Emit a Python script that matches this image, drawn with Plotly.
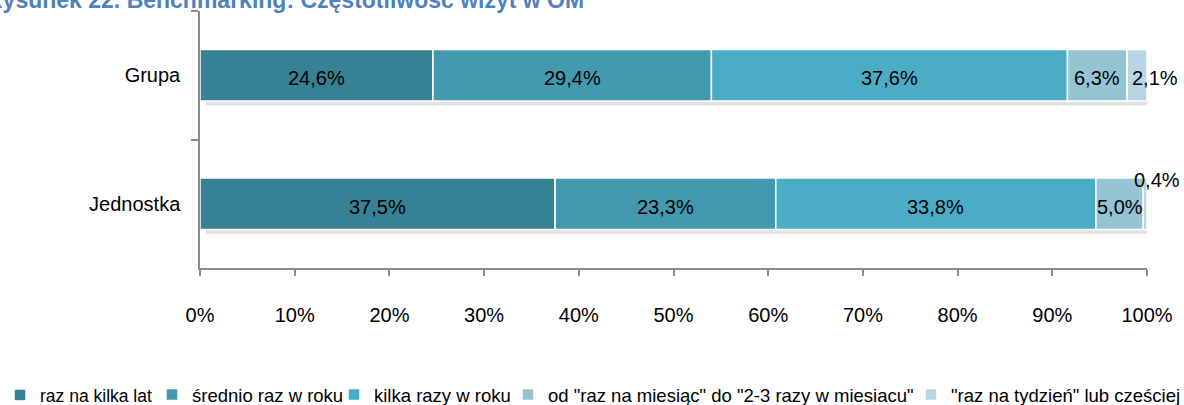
import plotly.graph_objects as go

categories = ["Grupa", "Jednostka"]
series_names = [
    "raz na kilka lat",
    "średnio raz w roku",
    "kilka razy w roku",
    "od \"raz na miesiąc\" do \"2-3 razy w miesiacu\"",
    "\"raz na tydzień\" lub cześciej",
]
grupa_vals = [24.6, 29.4, 37.6, 6.3, 2.1]
jednostka_vals = [37.5, 23.3, 33.8, 5.0, 0.4]
tick_vals = [0, 10, 20, 30, 40, 50, 60, 70, 80, 90, 100]
tick_text = ["0%", "10%", "20%", "30%", "40%", "50%", "60%", "70%", "80%", "90%", "100%"]
title_text = "Rysunek 22. Benchmarking: Częstotliwość wizyt w OM"

colors = ["#378194", "#4399AF", "#4BACC6", "#93C4D4", "#B7D6E2"]
FONT = "Liberation Sans, Arial, sans-serif"
W, H = 1184, 405

values = {"Grupa": grupa_vals, "Jednostka": jednostka_vals}
# label nudges (pixels) for small segments: (category, series index) -> (xshift, yshift)
nudges = {("Grupa", 4): (18, 0), ("Jednostka", 4): (12, 27)}
# legend entry left edges (pixels) – one small legend per series
legend_left_px = [0, 152, 334, 508, 911]
legend_font = [17.5, 18.5, 18.5, 18.5, 18.5]

fig = go.Figure()

# soft shadow under each bar
totals = [sum(values[c]) for c in categories]
fig.add_trace(go.Bar(
    y=categories, x=totals, base=[0.6, 0.6], orientation="h",
    width=0.4, offset=-0.2 + 0.035,
    marker=dict(color="rgba(0,0,0,0.11)", line=dict(width=0)),
    showlegend=False, hoverinfo="skip",
))

annotations = []
legends = {}
for i, name in enumerate(series_names):
    xs = [values[c][i] for c in categories]
    bases = [sum(values[c][:i]) for c in categories]
    lg = "legend" if i == 0 else f"legend{i + 1}"
    fig.add_trace(go.Bar(
        y=categories, x=xs, base=bases, orientation="h", name=name,
        width=0.4, offset=-0.2, legend=lg,
        marker=dict(color=colors[i], line=dict(color="white", width=1.5)),
    ))
    legends[lg] = dict(
        orientation="h", xref="container", yref="container",
        x=legend_left_px[i] / W, xanchor="left", y=10 / H, yanchor="middle",
        font=dict(family=FONT, size=legend_font[i], color="#000000"),
        itemwidth=30, bgcolor="rgba(0,0,0,0)",
    )
    for c, v, b in zip(categories, xs, bases):
        dx, dy = nudges.get((c, i), (0, 0))
        annotations.append(dict(
            x=b + v / 2, y=c, xref="x", yref="y",
            text=f"{v:.1f}%".replace(".", ","), showarrow=False,
            font=dict(family=FONT, size=20, color="#000000"),
            xshift=dx, yshift=dy - 3,
        ))

annotations.append(dict(
    text=f"<b>{title_text}</b>", showarrow=False,
    xref="paper", yref="paper", x=-0.228, y=1.043,
    xanchor="left", yanchor="middle",
    font=dict(family=FONT, size=23, color="#4F81BD"),
))

fig.update_layout(
    barmode="overlay",
    width=W, height=H,
    margin=dict(l=200, r=37, t=11, b=137, autoexpand=False),
    paper_bgcolor="white", plot_bgcolor="white",
    font=dict(family=FONT, size=20, color="#000000"),
    xaxis=dict(range=[0, 100], tickvals=tick_vals, ticktext=tick_text,
               showgrid=False, zeroline=False, showline=True,
               linecolor="#8C8C8C", linewidth=1.5, ticks="outside",
               ticklen=6, tickwidth=1.5, tickcolor="#8C8C8C",
               ticklabelstandoff=22, tickfont=dict(size=20), automargin=False),
    yaxis=dict(categoryorder="array", categoryarray=categories,
               autorange="reversed", showgrid=False, zeroline=False,
               showline=True, linecolor="#8C8C8C", linewidth=1.5,
               ticks="outside", ticklen=7, tickwidth=1.5, tickcolor="#8C8C8C",
               tickson="boundaries", ticklabelstandoff=14,
               tickfont=dict(size=20), automargin=False),
    annotations=annotations,
    showlegend=True,
    **legends,
)

fig.write_html(
    "out.html",
    config={"displayModeBar": False},
    post_script="document.body.style.margin='0px';document.body.style.padding='0px';",
)
